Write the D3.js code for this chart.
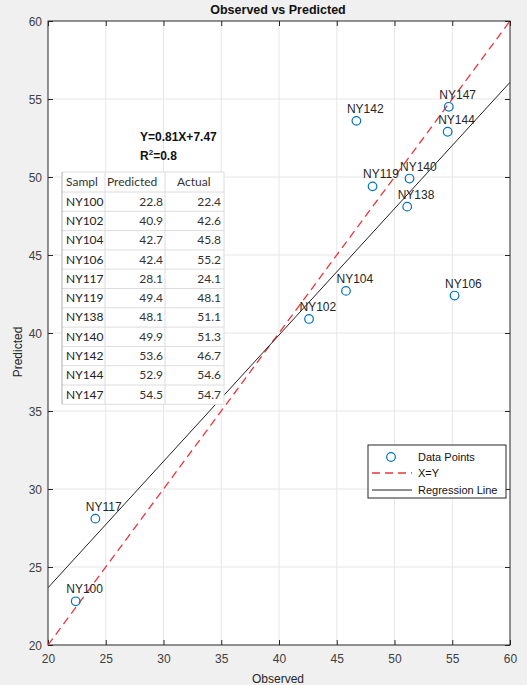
<!DOCTYPE html>
<html>
  <head>
    <meta charset="UTF-8" />
    <title>Observed vs Predicted</title>
    <style>
      body,
      html {
        margin: 0;
        padding: 0;
        overflow: hidden;
        background: #f0f0f0;
      }
      svg text {
        font-family: "Liberation Sans", Arial, sans-serif;
      }
      .tbl text {
        font-family: Lato, "Noto Sans", sans-serif;
        font-size: 12px;
        fill: #333;
      }
    </style>
  </head>
  <body>
    <svg id="chart"></svg>
    <script src="https://d3js.org/d3.v7.min.js"></script>
    <script>
      // data: samples, observed (actual) and predicted values
      const samples = ["NY100", "NY102", "NY104", "NY106", "NY117", "NY119", "NY138", "NY140", "NY142", "NY144", "NY147"];
      const predicted = [22.8, 40.9, 42.7, 42.4, 28.1, 49.4, 48.1, 49.9, 53.6, 52.9, 54.5];
      const actual = [22.4, 42.6, 45.8, 55.2, 24.1, 48.1, 51.1, 51.3, 46.7, 54.6, 54.7];
      const slope = 0.81;
      const intercept = 7.47;
      const axisTicks = [20, 25, 30, 35, 40, 45, 50, 55, 60];
      const tableHeader = ["Sampl", "Predicted", "Actual"];

      const width = 527;
      const height = 685;
      const svg = d3.select("#chart").attr("width", width).attr("height", height);

      const pLeft = 48, pRight = 510, pTop = 21, pBottom = 645;
      const x = d3.scaleLinear().domain([20, 60]).range([pLeft, pRight]);
      const y = d3.scaleLinear().domain([20, 60]).range([pBottom, pTop]);

      const axisColor = "#262626";

      // plot area
      svg.append("rect")
        .attr("x", pLeft).attr("y", pTop)
        .attr("width", pRight - pLeft).attr("height", pBottom - pTop)
        .attr("fill", "#fff");

      // grid
      const grid = svg.append("g").attr("stroke", "#e6e6e6").attr("stroke-width", 1);
      grid.selectAll(".gx").data(axisTicks.slice(1, -1)).enter().append("line")
        .attr("x1", (d) => x(d)).attr("x2", (d) => x(d))
        .attr("y1", pTop).attr("y2", pBottom);
      grid.selectAll(".gy").data(axisTicks.slice(1, -1)).enter().append("line")
        .attr("y1", (d) => y(d)).attr("y2", (d) => y(d))
        .attr("x1", pLeft).attr("x2", pRight);

      // axes with inward ticks
      const xAxis = svg.append("g").attr("transform", `translate(0,${pBottom})`)
        .call(d3.axisBottom(x).tickValues(axisTicks).tickSizeInner(-5).tickSizeOuter(0).tickPadding(9));
      const yAxis = svg.append("g").attr("transform", `translate(${pLeft},0)`)
        .call(d3.axisLeft(y).tickValues(axisTicks).tickSizeInner(-5).tickSizeOuter(0).tickPadding(6));
      const xTop = svg.append("g").attr("transform", `translate(0,${pTop})`)
        .call(d3.axisTop(x).tickValues(axisTicks).tickSizeInner(-5).tickSizeOuter(0).tickFormat(""));
      const yRight = svg.append("g").attr("transform", `translate(${pRight},0)`)
        .call(d3.axisRight(y).tickValues(axisTicks).tickSizeInner(-5).tickSizeOuter(0).tickFormat(""));
      [xAxis, yAxis, xTop, yRight].forEach((g) => {
        g.select(".domain").remove();
        g.selectAll("line").attr("stroke", axisColor);
        g.selectAll("text").attr("fill", "#404040").style("font-size", "12px")
          .style("font-family", "'Liberation Sans', Arial, sans-serif");
      });
      yAxis.selectAll("text").attr("dy", "0.35em");

      svg.append("rect")
        .attr("x", pLeft).attr("y", pTop)
        .attr("width", pRight - pLeft).attr("height", pBottom - pTop)
        .attr("fill", "none").attr("stroke", axisColor).attr("stroke-width", 1);

      // clip for lines
      svg.append("clipPath").attr("id", "clip").append("rect")
        .attr("x", pLeft).attr("y", pTop).attr("width", pRight - pLeft).attr("height", pBottom - pTop);

      const lines = svg.append("g").attr("clip-path", "url(#clip)");
      // X=Y
      lines.append("line")
        .attr("x1", x(20)).attr("y1", y(20)).attr("x2", x(60)).attr("y2", y(60))
        .attr("stroke", "#e8363b").attr("stroke-width", 1.3).attr("stroke-dasharray", "8,5");
      // regression
      lines.append("line")
        .attr("x1", x(20)).attr("y1", y(slope * 20 + intercept))
        .attr("x2", x(60)).attr("y2", y(slope * 60 + intercept))
        .attr("stroke", "#222").attr("stroke-width", 1);

      // points
      const pts = svg.append("g");
      pts.selectAll("circle").data(samples).enter().append("circle")
        .attr("cx", (d, i) => x(actual[i])).attr("cy", (d, i) => y(predicted[i]))
        .attr("r", 4.3).attr("fill", "none").attr("stroke", "#0072bd").attr("stroke-width", 1.2);
      pts.selectAll("text").data(samples).enter().append("text")
        .attr("x", (d, i) => x(actual[i]) - 9.5).attr("y", (d, i) => y(predicted[i]) - 8)
        .attr("fill", "#262626").style("font-size", "12px").text((d) => d);

      // title and axis labels
      svg.append("text").attr("x", 278).attr("y", 14).attr("text-anchor", "middle")
        .style("font-size", "12.5px").style("font-weight", "bold").attr("fill", "#111")
        .text("Observed vs Predicted");
      svg.append("text").attr("x", 278).attr("y", 683).attr("text-anchor", "middle")
        .style("font-size", "12px").attr("fill", "#262626").text("Observed");
      svg.append("text").attr("transform", "translate(22,352) rotate(-90)").attr("text-anchor", "middle")
        .style("font-size", "12px").attr("fill", "#262626").text("Predicted");

      // equation text
      svg.append("text").attr("x", 140).attr("y", 141)
        .style("font-size", "12px").style("font-weight", "bold").attr("fill", "#111")
        .text(`Y=${slope}X+${intercept}`);
      const r2 = svg.append("text").attr("x", 140).attr("y", 160)
        .style("font-size", "12px").style("font-weight", "bold").attr("fill", "#111");
      r2.append("tspan").text("R");
      r2.append("tspan").attr("dy", -5).style("font-size", "8px").text("2");
      r2.append("tspan").attr("dy", 5).text("=0.8");

      // pasted table
      const tbl = svg.append("g").attr("class", "tbl");
      const colX = [62, 105, 165, 224];
      const headTop = 172, headH = 20, rowH = 19.3;
      const tblBottom = headTop + headH + rowH * samples.length;
      tbl.append("rect").attr("x", colX[0]).attr("y", headTop)
        .attr("width", colX[3] - colX[0]).attr("height", tblBottom - headTop)
        .attr("fill", "#fff");
      const rowYs = d3.range(samples.length + 1).map((i) => headTop + headH + i * rowH);
      tbl.selectAll(".rl").data([headTop].concat(rowYs)).enter().append("line")
        .attr("x1", colX[0]).attr("x2", colX[3]).attr("y1", (d) => d).attr("y2", (d) => d)
        .attr("stroke", "#dcdcdc");
      tbl.selectAll(".cl").data(colX).enter().append("line")
        .attr("x1", (d) => d).attr("x2", (d) => d).attr("y1", headTop).attr("y2", tblBottom)
        .attr("stroke", (d, i) => (i === 0 ? "#b0b0b0" : "#dcdcdc"));
      const headX = [66, 107, 177];
      tableHeader.forEach((h, i) => {
        tbl.append("text").attr("x", headX[i]).attr("y", headTop + headH / 2 + 4).text(h);
      });
      samples.forEach((s, i) => {
        const cy = headTop + headH + i * rowH + rowH / 2 + 4;
        tbl.append("text").attr("x", 66).attr("y", cy).style("fill", "#222").text(s);
        tbl.append("text").attr("x", colX[2] - 2).attr("y", cy).attr("text-anchor", "end")
          .text(predicted[i].toFixed(1));
        tbl.append("text").attr("x", colX[3] - 3).attr("y", cy).attr("text-anchor", "end")
          .text(actual[i].toFixed(1));
      });

      // legend
      const lg = svg.append("g");
      lg.append("rect").attr("x", 368).attr("y", 445).attr("width", 138).attr("height", 53)
        .attr("fill", "#fff").attr("stroke", axisColor).attr("stroke-width", 1);
      const legendItems = ["Data Points", "X=Y", "Regression Line"];
      const ly = [457, 473, 490];
      lg.append("circle").attr("cx", 391).attr("cy", ly[0]).attr("r", 4.3)
        .attr("fill", "none").attr("stroke", "#0072bd").attr("stroke-width", 1.2);
      lg.append("line").attr("x1", 372).attr("x2", 412).attr("y1", ly[1]).attr("y2", ly[1])
        .attr("stroke", "#e8363b").attr("stroke-width", 1.3).attr("stroke-dasharray", "8,5");
      lg.append("line").attr("x1", 372).attr("x2", 412).attr("y1", ly[2]).attr("y2", ly[2])
        .attr("stroke", "#222").attr("stroke-width", 1);
      legendItems.forEach((t, i) => {
        lg.append("text").attr("x", 418).attr("y", ly[i] + 4)
          .style("font-size", "11px").attr("fill", "#111").text(t);
      });
    </script>
  </body>
</html>
